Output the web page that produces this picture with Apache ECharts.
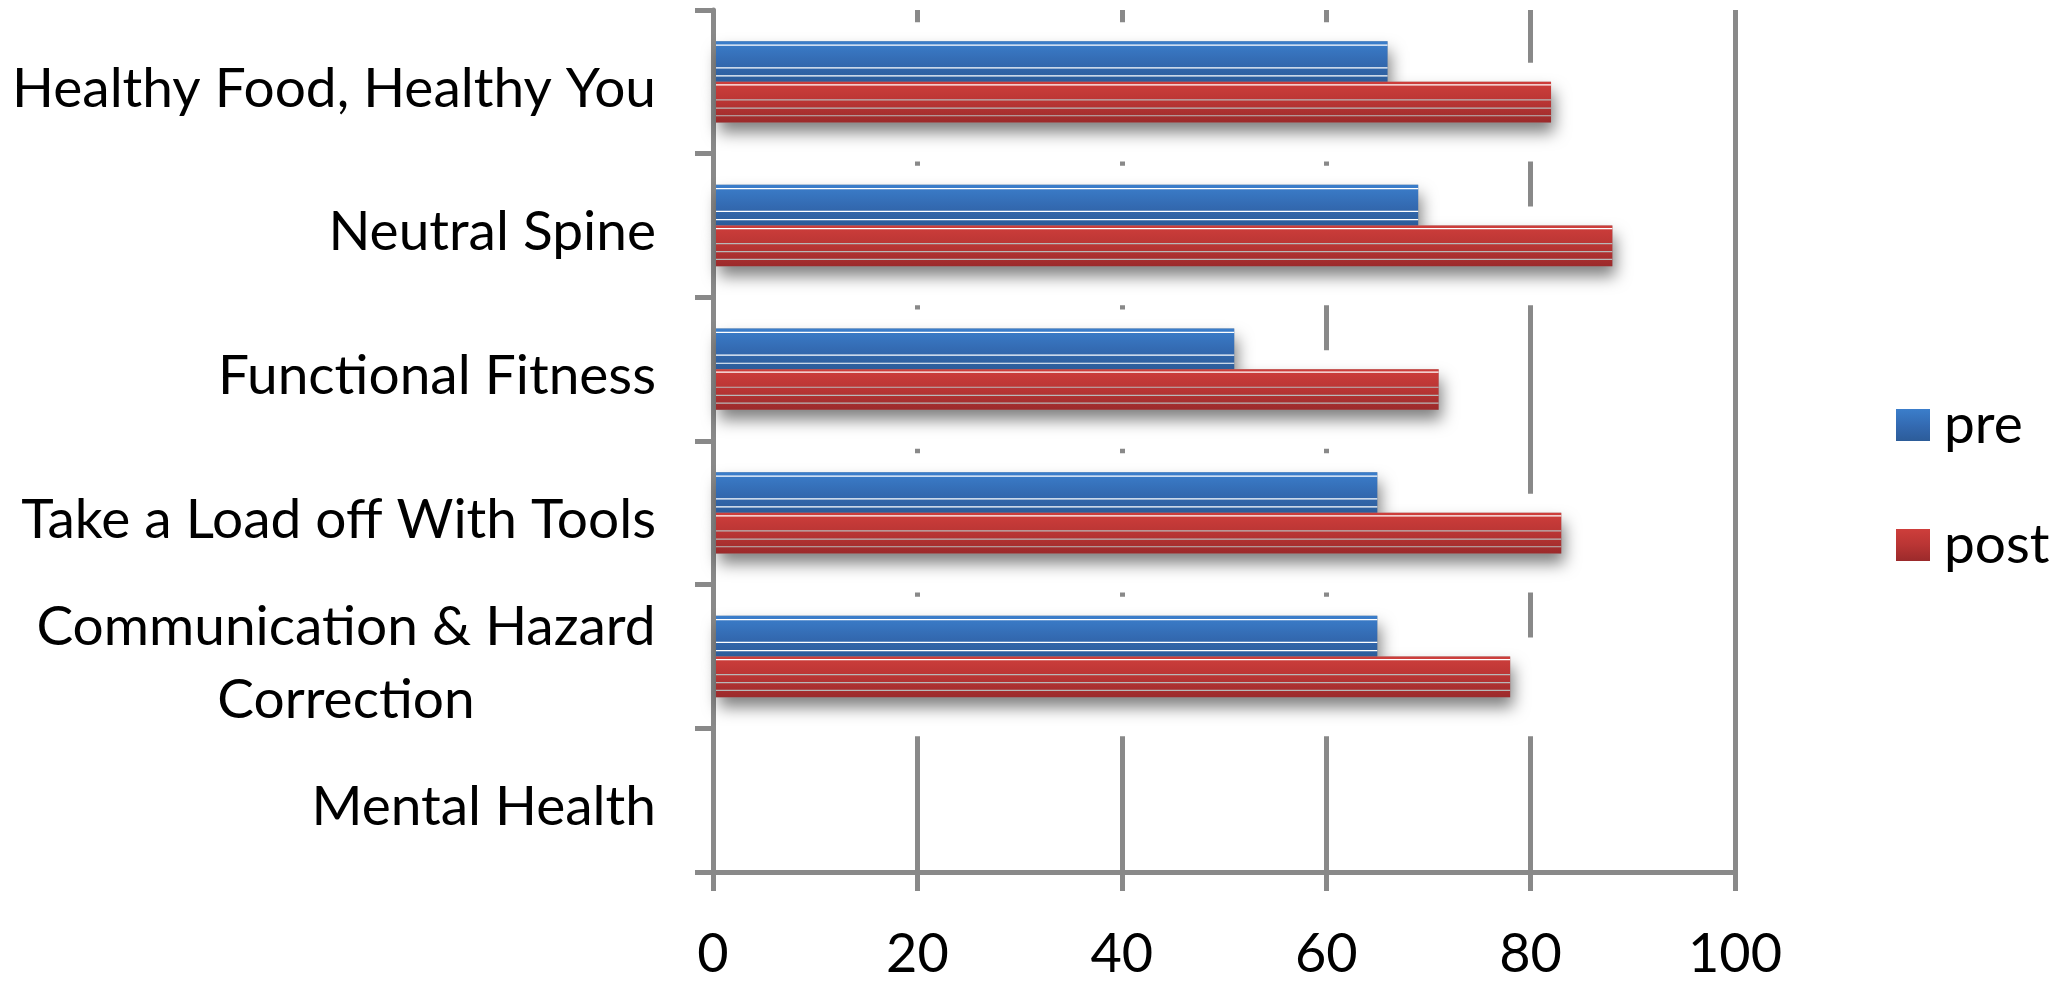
<!DOCTYPE html>
<html>
<head>
<meta charset="utf-8">
<title>Pre / post scores by module</title>
<script src="https://cdn.jsdelivr.net/npm/echarts@6/dist/echarts.min.js"></script>
<style>
  html, body { margin: 0; padding: 0; background: #ffffff; }
  #chart { width: 2061px; height: 982px; }
</style>
</head>
<body>
<div id="chart"></div>
<script>
// Modules, top to bottom
const categories = [
  'Healthy Food, Healthy You',
  'Neutral Spine',
  'Functional Fitness',
  'Take a Load off With Tools',
  'Communication & Hazard\nCorrection',
  'Mental Health'
];
// Scores per module (Mental Health has no results yet)
const preScores = [66, 69, 51, 65, 65, null];
const postScores = [82, 88, 71, 83, 78, null];
const seriesNames = ['pre', 'post'];
const valueTicks = [0, 20, 40, 60, 80, 100];

const AXIS_GRAY = '#898989';
const FONT = 'Lato';
const LABEL_SIZE = 55;

function vGrad(stops) {
  return new echarts.graphic.LinearGradient(0, 0, 0, 1,
    stops.map(s => ({ offset: s[0], color: s[1] })));
}

const looks = {
  pre: {
    slot: 0,
    fill: () => vGrad([[0, '#3b7ecb'], [0.55, '#3369b0'], [1, '#2c5c99']]),
    lines: [[0.08, '#ffffff'], [0.64, '#ffffff'], [0.84, '#ffffff']]
  },
  post: {
    slot: 1,
    fill: () => vGrad([[0, '#ce3e3b'], [0.5, '#b93534'], [1, '#9b2a2b']]),
    lines: [[0.06, '#ffffff'], [0.43, '#b8b8b8'], [0.63, '#b8b8b8'], [0.82, '#b8b8b8']]
  }
};

// Each bar: a white halo that masks the grid behind it, a soft drop shadow,
// the gradient bar and its thin horizontal bands.
function makeRenderer(look) {
  return function (params, api) {
    const v = api.value(0);
    if (v == null || isNaN(v)) return null;
    const ci = api.value(1);
    const base = api.coord([0, ci]);
    const tip = api.coord([v, ci]);
    const band = api.size([0, 1])[1];
    const h = band * 0.283;
    const top = look.slot === 0 ? base[1] - h : base[1];
    const x = base[0] + 3;
    const w = tip[0] - x;
    const children = [
      { type: 'rect', z2: 1, shape: { x: x, y: top - 19, width: w + 30, height: h + 58 },
        style: { fill: '#ffffff' } },
      { type: 'rect', z2: 2, shape: { x: x, y: top, width: w, height: h },
        style: { fill: '#9c9c9c', shadowBlur: 16, shadowOffsetX: 3, shadowOffsetY: 10,
                 shadowColor: 'rgba(0,0,0,0.5)' } },
      { type: 'rect', z2: 5, shape: { x: x, y: top, width: w, height: h },
        style: { fill: look.fill() } }
    ];
    look.lines.forEach(function (ln) {
      children.push({ type: 'rect', z2: 6,
        shape: { x: x, y: top + h * ln[0], width: w, height: 1.2 },
        style: { fill: ln[1] } });
    });
    return { type: 'group', children: children };
  };
}

function toPoints(values) {
  const out = [];
  values.forEach(function (v, i) { if (v != null) out.push([v, i]); });
  return out;
}

// Multi-line module names are centred line by line inside a box as wide as the longest line
const measureCtx = document.createElement('canvas').getContext('2d');
measureCtx.font = LABEL_SIZE + 'px ' + FONT;
let wrapWidth = 0;
categories.forEach(function (c) {
  const parts = c.split('\n');
  if (parts.length > 1) {
    parts.forEach(function (p) {
      wrapWidth = Math.max(wrapWidth, Math.ceil(measureCtx.measureText(p).width));
    });
  }
});

const chart = echarts.init(document.getElementById('chart'), null, { renderer: 'canvas' });

chart.setOption({
  animation: false,
  backgroundColor: '#ffffff',
  grid: { left: 713, right: 326, top: 10, bottom: 104, containLabel: false },
  legend: {
    orient: 'vertical',
    left: 1891,
    top: 388,
    itemWidth: 34,
    itemHeight: 32,
    itemGap: 56,
    selectedMode: false,
    textStyle: { fontFamily: FONT, fontSize: 55, color: '#000000', lineHeight: 64, padding: [0, 0, 0, 9] },
    data: seriesNames.map(function (n) {
      return { name: n, icon: 'rect', itemStyle: { color: looks[n].fill() } };
    })
  },
  xAxis: {
    type: 'value',
    min: valueTicks[0],
    max: valueTicks[valueTicks.length - 1],
    interval: valueTicks[1] - valueTicks[0],
    axisLine: { show: true, lineStyle: { color: AXIS_GRAY, width: 5 } },
    axisTick: { show: true, length: 19, lineStyle: { color: AXIS_GRAY, width: 5 } },
    splitLine: { show: true, lineStyle: { color: AXIS_GRAY, width: 5 } },
    axisLabel: { fontFamily: FONT, fontSize: 54, color: '#000000', margin: 56 }
  },
  yAxis: {
    type: 'category',
    inverse: true,
    data: categories,
    axisLine: { show: true, lineStyle: { color: AXIS_GRAY, width: 5 } },
    axisTick: { show: true, length: 18, lineStyle: { color: AXIS_GRAY, width: 5 } },
    splitLine: { show: false },
    axisLabel: {
      fontFamily: FONT,
      fontSize: LABEL_SIZE,
      color: '#000000',
      margin: 57,
      lineHeight: 72,
      padding: [14, 0, 0, 0],
      formatter: function (val) {
        const parts = val.split('\n');
        if (parts.length === 1) return val;
        return parts.map(function (p) { return '{wrap|' + p + '}'; }).join('\n');
      },
      rich: {
        wrap: { width: wrapWidth, align: 'center', fontFamily: FONT, fontSize: LABEL_SIZE,
                lineHeight: 73, color: '#000000' }
      }
    }
  },
  series: seriesNames.map(function (n, k) {
    return {
      name: n,
      type: 'custom',
      renderItem: makeRenderer(looks[n]),
      encode: { x: 0, y: 1 },
      itemStyle: { color: looks[n].fill() },
      data: toPoints(k === 0 ? preScores : postScores),
      z: 2
    };
  })
});
</script>
</body>
</html>
